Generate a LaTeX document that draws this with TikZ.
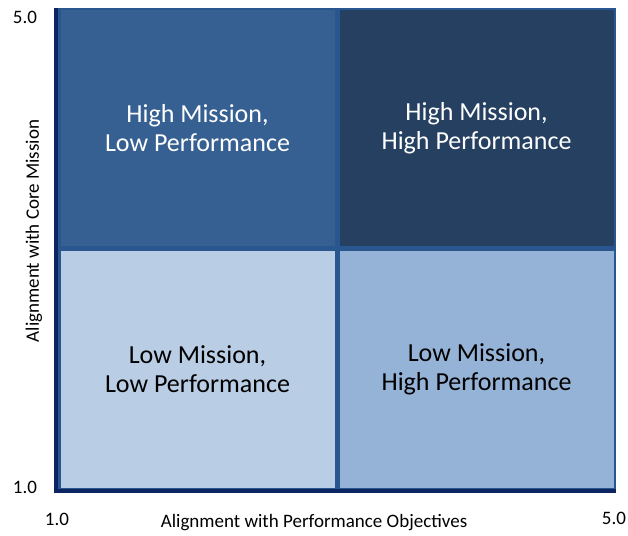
\documentclass[tikz,border=0pt]{standalone}
\usepackage{fontspec}
\setmainfont{Carlito}
\usepackage{xcolor}
\usepackage{tikz}
\usetikzlibrary{positioning}
\definecolor{hmlpfill}{HTML}{376092}
\definecolor{hmhpfill}{HTML}{254061}
\definecolor{lmlpfill}{HTML}{B9CDE5}
\definecolor{lmhpfill}{HTML}{95B3D7}
\definecolor{gapblue}{HTML}{2A5690}
\definecolor{axisnavy}{HTML}{0C2461}
\tikzset{quad/.style={draw=gapblue, line width=2.5pt, minimum width=276.5pt, minimum height=238.5pt, anchor=north west, align=center, font=\fontsize{26}{29}\selectfont, inner sep=0pt}}
\tikzset{ticklbl/.style={font=\fontsize{19}{22}\selectfont, inner sep=0pt}}
\tikzset{axislbl/.style={font=\fontsize{19}{22}\selectfont, inner sep=0pt}}

\begin{document}
\begin{tikzpicture}[x=1pt, y=1pt]
      \useasboundingbox (0,0) rectangle (628,535);
      \node[quad, fill=hmlpfill, text=white] (hmlp) at (58,527) {High Mission,\\Low Performance};
      \node[quad, fill=hmhpfill, text=white] (hmhp) at (hmlp.north east) {High Mission,\\High Performance};
      \node[quad, fill=lmlpfill, text=black] (lmlp) at (hmlp.south west) {Low Mission,\\Low Performance};
      \node[quad, fill=lmhpfill, text=black] (lmhp) at (hmlp.south east) {Low Mission,\\High Performance};
      \coordinate (origin) at (56,44.5);
      \coordinate (ytop) at (56,527);
      \coordinate (xend) at (616,44.5);
      \draw[axisnavy, line width=4pt] (ytop) -- (origin) -- (xend);
      \node[ticklbl] (ymax) at (25,518) {5.0};
      \node[ticklbl] (ymin) at (25,48) {1.0};
      \node[ticklbl] (xmin) at (57,16) {1.0};
      \node[ticklbl] (xmax) at (614,17) {5.0};
      \node[axislbl] (xlabel) at (314,12) {Alignment with Performance Objectives};
      \node[axislbl, rotate=90] (ylabel) at (34,304) {Alignment with Core Mission};
    \end{tikzpicture}
\end{document}
